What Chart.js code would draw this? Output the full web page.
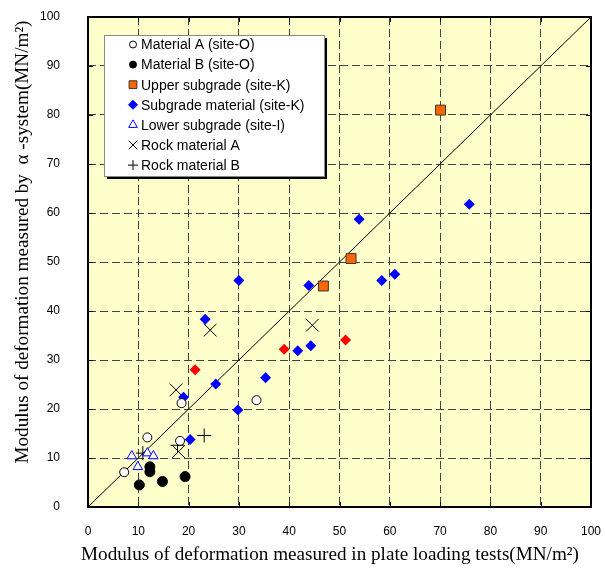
<!DOCTYPE html>
<html>
<head>
<meta charset="utf-8">
<script src="https://cdn.jsdelivr.net/npm/chart.js@4.4.0/dist/chart.umd.min.js"></script>
<style>
  html, body { margin: 0; padding: 0; background: #fff; }
</style>
</head>
<body>
<canvas id="chart" width="605" height="573"></canvas>
<script>
// --- data: [plate loading test, alpha-system] in MN/m2 ---
const tickValues = [0, 10, 20, 30, 40, 50, 60, 70, 80, 90, 100];

const materialA = [[7.2, 7.1], [11.8, 14.2], [18.3, 13.5], [18.6, 21.2], [33.5, 21.8]];
const materialB = [[10.2, 4.5], [12.3, 8.2], [12.3, 7.2], [14.8, 5.2], [19.3, 6.2]];
const upperSubgrade = [[46.8, 45.1], [52.3, 50.7], [70.1, 81.0]];
const subgradeMaterial = [[19.0, 22.4], [20.3, 13.8], [23.3, 38.3], [25.4, 25.1], [29.8, 19.8],
  [30.0, 46.2], [35.3, 26.4], [41.7, 31.9], [43.9, 45.2], [44.3, 32.9], [53.9, 58.7],
  [58.4, 46.2], [61.0, 47.5], [75.8, 61.8]];
const subgradeRed = [[21.3, 28.0], [39.0, 32.2], [51.2, 34.1]];
const lowerSubgrade = [[8.7, 10.4], [9.9, 8.2], [11.8, 11.0], [13.0, 10.4]];
const rockA = [[18.0, 11.3], [17.5, 23.9], [24.3, 36.1], [44.6, 37.1]];
const rockB = [[10.9, 11.0], [17.8, 12.6], [23.1, 14.6]];
const equalityLine = [[0, 0], [100, 100]];

const xTitle = 'Modulus of deformation measured in plate loading tests(MN/m\u00B2)';
const yTitle = 'Modulus of deformation measured by  \u03B1 -system(MN/m\u00B2)';

const toPts = arr => arr.map(p => ({ x: p[0], y: p[1] }));

function markers(label, data, style, radius, fill, stroke, width, legendRadius) {
    return {
        label: label,
        data: toPts(data),
        pointStyle: style,
        pointRadius: radius,
        pointHoverRadius: radius,
        pointBackgroundColor: fill,
        pointBorderColor: stroke,
        pointBorderWidth: width,
        legendRadius: legendRadius,
        order: 0
    };
}

// --- plugin: plot background, frame, inner ticks, legend box, axis titles ---
const plotDecor = {
    id: 'plotDecor',
    beforeDraw(chart) {
        const { ctx, chartArea: a } = chart;
        ctx.save();
        ctx.fillStyle = '#FFFFCC';
        ctx.fillRect(a.left, a.top, a.right - a.left, a.bottom - a.top);
        ctx.restore();
    },
    afterDatasetsDraw(chart) {
        const { ctx, chartArea: a } = chart;
        const xs = chart.scales.x, ys = chart.scales.y;
        ctx.save();

        // short inner tick marks on all four sides
        ctx.strokeStyle = '#000';
        ctx.lineWidth = 1;
        ctx.beginPath();
        tickValues.forEach(v => {
            const px = Math.round(xs.getPixelForValue(v)) + 0.5;
            const py = Math.round(ys.getPixelForValue(v)) + 0.5;
            ctx.moveTo(px, a.bottom); ctx.lineTo(px, a.bottom - 5);
            ctx.moveTo(px, a.top); ctx.lineTo(px, a.top + 5);
            ctx.moveTo(a.left, py); ctx.lineTo(a.left + 5, py);
            ctx.moveTo(a.right, py); ctx.lineTo(a.right - 5, py);
        });
        ctx.stroke();

        // frame
        ctx.lineWidth = 2;
        ctx.strokeStyle = '#000';
        ctx.strokeRect(a.left, a.top, a.right - a.left, a.bottom - a.top);

        // legend box with drop shadow
        const bx = 104, by = 35, bw = 220, bh = 141;
        ctx.fillStyle = '#000';
        ctx.fillRect(bx + 3, by + 3, bw, bh);
        ctx.fillStyle = '#fff';
        ctx.fillRect(bx, by, bw, bh);
        ctx.lineWidth = 1;
        ctx.strokeStyle = '#888';
        ctx.strokeRect(bx + 0.5, by + 0.5, bw, bh);

        ctx.font = '14px "Liberation Sans", Arial, sans-serif';
        ctx.textBaseline = 'middle';
        ctx.textAlign = 'left';
        const entries = chart.data.datasets.filter(d => d.legendRadius);
        entries.forEach((d, i) => {
            const cy = 44.5 + i * 20.1;
            ctx.fillStyle = d.pointBackgroundColor;
            ctx.strokeStyle = d.pointBorderColor;
            ctx.lineWidth = Math.max(d.pointBorderWidth, 1);
            if (Chart.helpers && Chart.helpers.drawPoint) {
                Chart.helpers.drawPoint(ctx, {
                    pointStyle: d.pointStyle,
                    radius: d.legendRadius,
                    rotation: 0,
                    borderWidth: Math.max(d.pointBorderWidth, 1)
                }, 133, cy);
            }
            ctx.fillStyle = '#000';
            ctx.fillText(d.label, 141, cy + 1);
        });
        ctx.restore();
    },
    afterDraw(chart) {
        const { ctx } = chart;
        ctx.save();
        ctx.fillStyle = '#000';
        ctx.textAlign = 'center';
        ctx.textBaseline = 'middle';

        // x title, fitted to the width it has in the figure
        ctx.font = '18px "Liberation Serif", "Times New Roman", serif';
        let fx = 18 * 498 / ctx.measureText(xTitle).width;
        ctx.font = fx.toFixed(2) + 'px "Liberation Serif", "Times New Roman", serif';
        ctx.fillText(xTitle, 330, 555);

        // y title, rotated
        ctx.font = '18px "Liberation Serif", "Times New Roman", serif';
        let fy = 18 * 443 / ctx.measureText(yTitle).width;
        ctx.font = fy.toFixed(2) + 'px "Liberation Serif", "Times New Roman", serif';
        ctx.translate(23, 242);
        ctx.rotate(-Math.PI / 2);
        ctx.fillText(yTitle, 0, 0);
        ctx.restore();
    }
};

const tickFont = { family: '"Liberation Sans", Arial, sans-serif', size: 12 };

new Chart(document.getElementById('chart'), {
    type: 'scatter',
    data: {
        datasets: [
            markers('Material A (site-O)', materialA, 'circle', 4.5, '#FFFFFF', '#000000', 1, 3.5),
            markers('Material B (site-O)', materialB, 'circle', 5, '#000000', '#000000', 1, 3.5),
            markers('Upper subgrade (site-K)', upperSubgrade, 'rect', 7, '#FF6600', '#333333', 1, 5.5),
            markers('Subgrade material (site-K)', subgradeMaterial, 'rectRot', 5.5, '#0000FF', '#0000FF', 0, 4.5),
            markers('Lower subgrade (site-I)', lowerSubgrade, 'triangle', 5.5, '#FFFFFF', '#0000FF', 1, 5),
            markers('Rock material A', rockA, 'crossRot', 9, '#000000', '#000000', 1, 6),
            markers('Rock material B', rockB, 'cross', 7, '#000000', '#000000', 1, 5),
            markers('Subgrade material (red)', subgradeRed, 'rectRot', 5.5, '#FF0000', '#FF0000', 0, 0),
            {
                type: 'line',
                label: '1:1',
                data: toPts(equalityLine),
                borderColor: '#000',
                borderWidth: 1,
                pointRadius: 0,
                fill: false,
                order: 10
            }
        ]
    },
    options: {
        responsive: false,
        animation: false,
        layout: { padding: { top: 17, right: 14, left: 0, bottom: 0 } },
        plugins: {
            legend: { display: false },
            tooltip: { enabled: false }
        },
        scales: {
            x: {
                type: 'linear',
                min: 0,
                max: 100,
                afterBuildTicks: s => { s.ticks = tickValues.map(v => ({ value: v })); },
                afterFit: s => { s.height = 66; s.paddingLeft = 0; s.paddingRight = 0; },
                ticks: { font: tickFont, color: '#000', padding: 17, maxRotation: 0 },
                grid: { color: '#444', lineWidth: 1, drawTicks: false },
                border: { display: false, dash: [8, 4] }
            },
            y: {
                type: 'linear',
                min: 0,
                max: 100,
                afterBuildTicks: s => { s.ticks = tickValues.map(v => ({ value: v })); },
                afterFit: s => { s.width = 88; s.paddingTop = 0; s.paddingBottom = 0; },
                ticks: { font: tickFont, color: '#000', padding: 28 },
                grid: { color: '#444', lineWidth: 1, drawTicks: false },
                border: { display: false, dash: [8, 4] }
            }
        }
    },
    plugins: [plotDecor]
});
</script>
</body>
</html>
